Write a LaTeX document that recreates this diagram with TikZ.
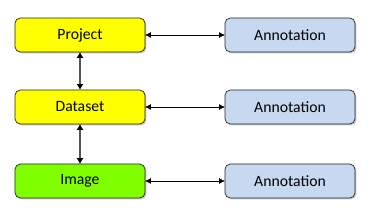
\documentclass[tikz,border=0pt]{standalone}
\usepackage{fontspec}
\setmainfont{Carlito}
\usepackage{tikz}
\usetikzlibrary{arrows.meta,positioning,shadows}
\usepackage{xcolor}
\definecolor{YellowB}{RGB}{255,255,0}
\definecolor{GreenB} {RGB}{128,255,0}
\definecolor{BlueL}  {RGB}{198,217,240}
\definecolor{GrayD}  {RGB}{85, 85, 85}

\begin{document}
\begin{tikzpicture}[x=0.03cm,y=0.03cm,
    box/.style={draw=black!85,line width=0.6pt,rounded corners=4.5pt,
      minimum width=3.9cm,minimum height=1.02cm,outer sep=0pt,
      font=\fontsize{13.4}{16}\selectfont,
      drop shadow={shadow xshift=1.2pt,shadow yshift=-1.2pt,opacity=0.45}},
    link/.style={{Latex[length=5pt,width=5pt]}-{Latex[length=5pt,width=5pt]},line width=0.6pt},
    vlink/.style={{Latex[length=5pt,width=6pt,color=black]}-{Latex[length=5pt,width=6pt,color=black]},
      GrayD,line width=1pt}]
        \useasboundingbox (0,0) rectangle (378,218);
        \node[box,fill=YellowB] (proj) at (80,183) {Project};
        \node[box,fill=YellowB] (dset) at (80,111) {Dataset};
        \node[box,fill=GreenB]  (img)  at (80,37)  {Image};
        \foreach \n in {proj,dset,img}{
          \node[box,fill=BlueL,right=2.4cm of \n] (ann\n) {Annotation};
          \draw[link] (\n) -- (ann\n);}
        \draw[vlink] (proj) -- (dset);
        \draw[vlink] (dset) -- (img);
      \end{tikzpicture}
\end{document}
